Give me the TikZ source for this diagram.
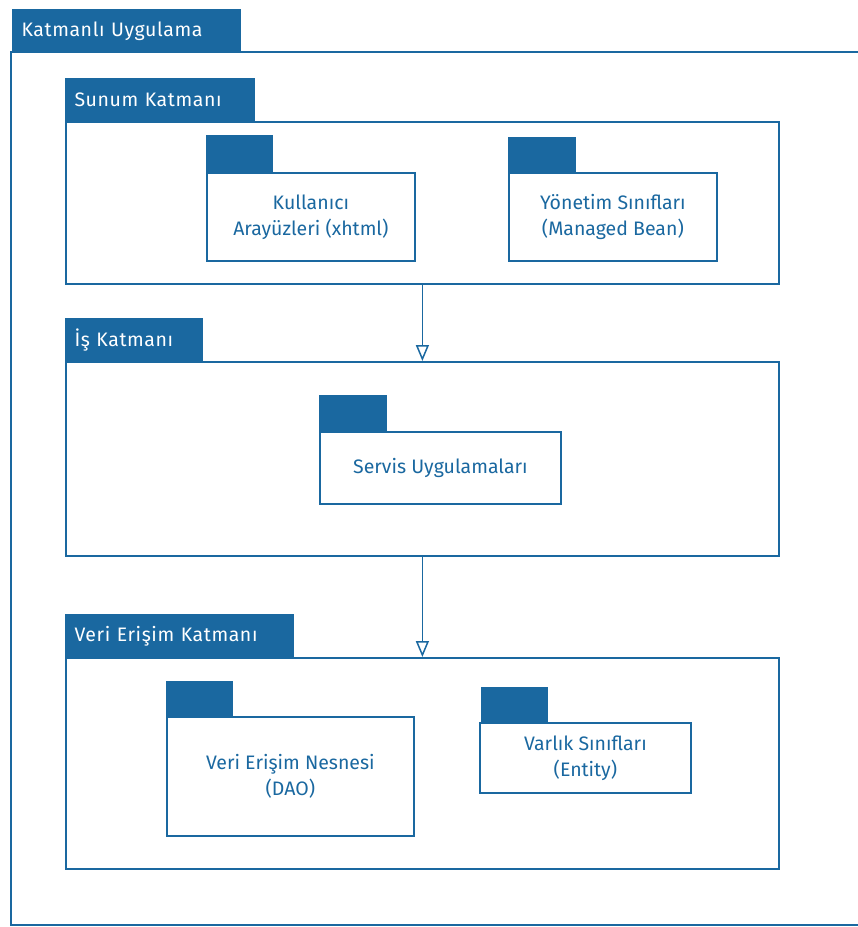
\documentclass[tikz,border=0pt]{standalone}
\usepackage{fontspec}
\setmainfont{Fira Sans}
\newfontfamily\tabfont[LetterSpace=3]{Fira Sans}
\newfontfamily\pkgfont{Fira Sans}
\usetikzlibrary{arrows.meta}
\definecolor{umlblue}{RGB}{26,104,160}
\tikzset{
  x=1pt, y=-1pt,
  frame/.style={draw=umlblue, line width=1.8pt, fill=white, anchor=north west, inner sep=0pt},
  tabbox/.style={draw=umlblue, line width=1pt, fill=umlblue, anchor=north west, inner sep=0pt,
    text=white, font=\tabfont\fontsize{19.5}{22}\selectfont, align=left},
  pkgtab/.style={draw=umlblue, line width=1pt, fill=umlblue, anchor=north west, inner sep=0pt},
  pkgbox/.style={draw=umlblue, line width=1.8pt, fill=white, anchor=north west, inner sep=0pt,
    text=umlblue, font=\pkgfont\fontsize{19.5}{26}\selectfont, align=center},
  dep/.style={draw=umlblue, line width=1.5pt, -{Triangle[open, length=16pt, width=13pt, line width=1.5pt]}}
}
\begin{document}
\begin{tikzpicture}
\useasboundingbox (0,0) rectangle (858,927);

% outer application package
\node[tabbox, minimum width=228, minimum height=43, text width=210] (apptab) at (12,9) {Katmanlı Uygulama};
\draw[draw=umlblue, line width=1.8pt] (870,52) -- (11,52) -- (11,925) -- (870,925);

% presentation layer
\node[tabbox, minimum width=189, minimum height=43, text width=171] (sunumtab) at (65,78) {Sunum Katmanı};
\node[frame, minimum width=713, minimum height=162] (sunum) at (65,121) {};
\node[pkgtab, minimum width=66, minimum height=37] (kulltab) at (206,135) {};
\node[pkgbox, minimum width=208, minimum height=88] (kull) at (206,172) {Kullanıcı\\Arayüzleri (xhtml)};
\node[pkgtab, minimum width=67, minimum height=35] (yontab) at (508,137) {};
\node[pkgbox, minimum width=208, minimum height=88] (yon) at (508,172) {Yönetim Sınıfları\\(Managed Bean)};

% business layer
\node[tabbox, minimum width=137, minimum height=43, text width=119] (istab) at (65,318) {İş Katmanı};
\node[frame, minimum width=713, minimum height=194] (is) at (65,361) {};
\node[pkgtab, minimum width=67, minimum height=36] (servtab) at (319,395) {};
\node[pkgbox, minimum width=241, minimum height=72] (serv) at (319,431) {Servis Uygulamaları};

% data access layer
\node[tabbox, minimum width=228, minimum height=43, text width=210] (veritab) at (65,614) {Veri Erişim Katmanı};
\node[frame, minimum width=713, minimum height=211] (veri) at (65,657) {};
\node[pkgtab, minimum width=66, minimum height=35] (daotab) at (166,681) {};
\node[pkgbox, minimum width=247, minimum height=119] (dao) at (166,716) {Veri Erişim Nesnesi\\(DAO)};
\node[pkgtab, minimum width=66, minimum height=35] (varliktab) at (481,687) {};
\node[pkgbox, minimum width=211, minimum height=70] (varlik) at (479,722) {Varlık Sınıfları\\(Entity)};

% layer dependencies
\draw[dep] (sunum.south) -- (is.north);
\draw[dep] (is.south) -- (veri.north);
\end{tikzpicture}
\end{document}
